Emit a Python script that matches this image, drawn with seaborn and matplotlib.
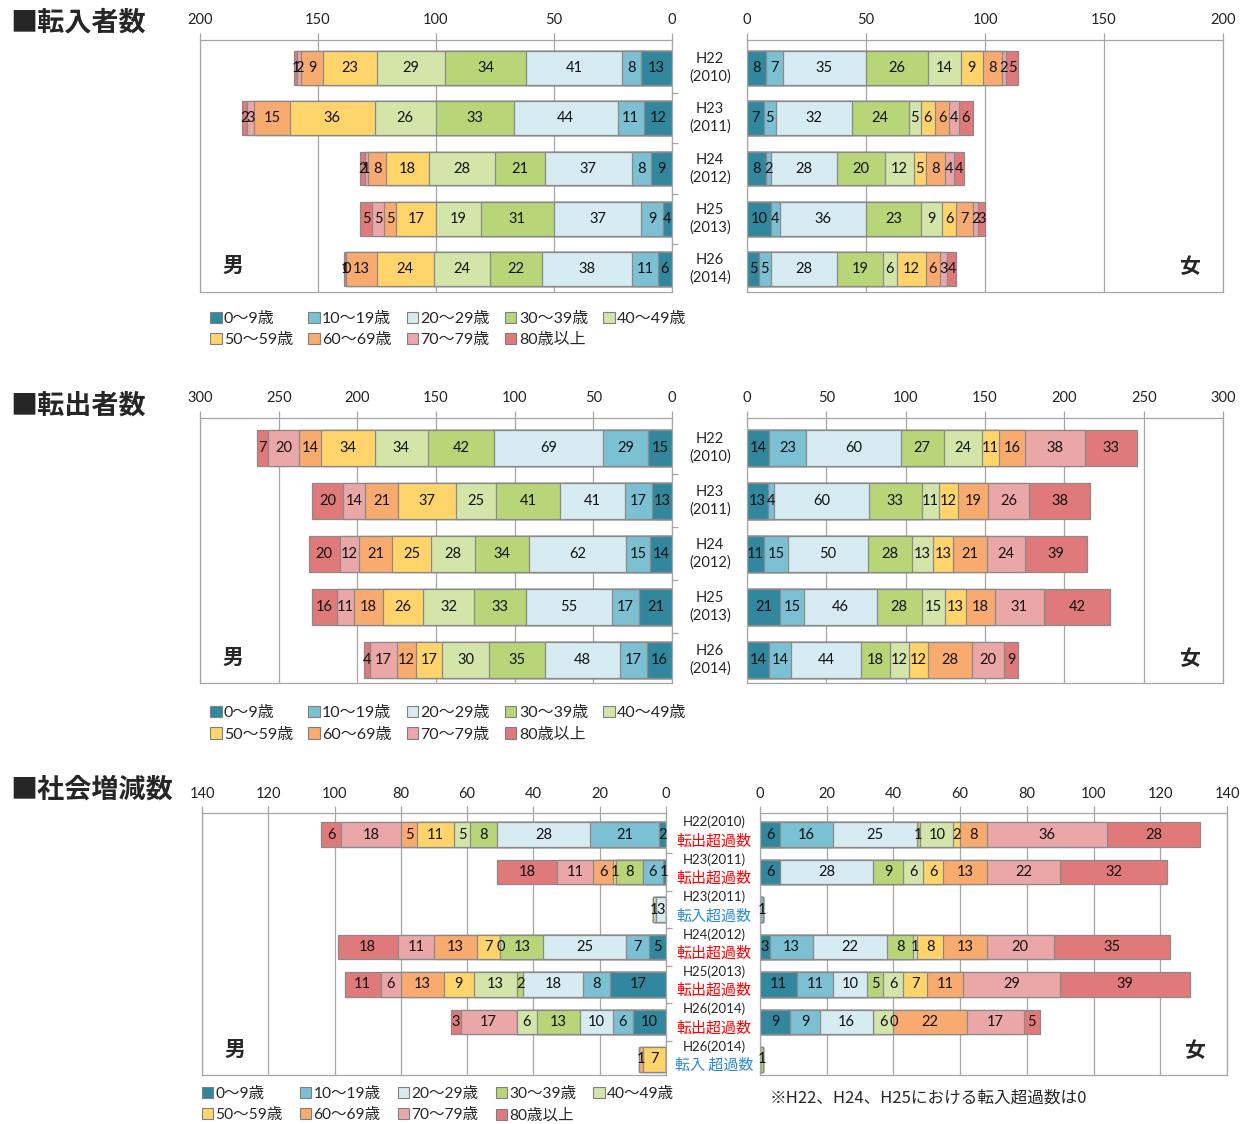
import numpy as np
import pandas as pd
import matplotlib
matplotlib.use("Agg")
import matplotlib.pyplot as plt
from matplotlib.patches import Patch
import seaborn as sns

# ---- data -----------------------------------------------------------------
ages = ["0～9歳", "10～19歳", "20～29歳", "30～39歳", "40～49歳",
        "50～59歳", "60～69歳", "70～79歳", "80歳以上"]
age_colors = ["#31879D", "#7CC0D3", "#D6EBF2", "#B8D677", "#D3E5A8",
              "#FFD56B", "#F9AB6F", "#EBA7A8", "#E07979"]

years = ["H22\n(2010)", "H23\n(2011)", "H24\n(2012)", "H25\n(2013)", "H26\n(2014)"]

# 転入者数 (rows: years, columns: age groups)
in_male = [
    [13, 8, 41, 34, 29, 23, 9, 2, 1],
    [12, 11, 44, 33, 26, 36, 15, 3, 2],
    [9, 8, 37, 21, 28, 18, 8, 1, 2],
    [4, 9, 37, 31, 19, 17, 5, 5, 5],
    [6, 11, 38, 22, 24, 24, 13, 0, 1],
]
in_female = [
    [8, 7, 35, 26, 14, 9, 8, 2, 5],
    [7, 5, 32, 24, 5, 6, 6, 4, 6],
    [8, 2, 28, 20, 12, 5, 8, 4, 4],
    [10, 4, 36, 23, 9, 6, 7, 2, 3],
    [5, 5, 28, 19, 6, 12, 6, 3, 4],
]

# 転出者数
out_male = [
    [15, 29, 69, 42, 34, 34, 14, 20, 7],
    [13, 17, 41, 41, 25, 37, 21, 14, 20],
    [14, 15, 62, 34, 28, 25, 21, 12, 20],
    [21, 17, 55, 33, 32, 26, 18, 11, 16],
    [16, 17, 48, 35, 30, 17, 12, 17, 4],
]
out_female = [
    [14, 23, 60, 27, 24, 11, 16, 38, 33],
    [13, 4, 60, 33, 11, 12, 19, 26, 38],
    [11, 15, 50, 28, 13, 13, 21, 24, 39],
    [21, 15, 46, 28, 15, 13, 18, 31, 42],
    [14, 14, 44, 18, 12, 12, 28, 20, 9],
]

# 社会増減数 (NaN = age group not in this row)
nan = np.nan
net_years = ["H22(2010)", "H23(2011)", "H23(2011)", "H24(2012)",
             "H25(2013)", "H26(2014)", "H26(2014)"]
net_kinds = ["転出超過数", "転出超過数", "転入超過数", "転出超過数",
             "転出超過数", "転出超過数", "転入 超過数"]
net_male = [
    [2, 21, 28, 8, 5, 11, 5, 18, 6],
    [1, 6, nan, 8, nan, 1, 6, 11, 18],
    [nan, nan, 3, nan, 1, nan, nan, nan, nan],
    [5, 7, 25, 13, 0, 7, 13, 11, 18],
    [17, 8, 18, 2, 13, 9, 13, 6, 11],
    [10, 6, 10, 13, 6, nan, nan, 17, 3],
    [nan, nan, nan, nan, nan, 7, 1, nan, nan],
]
net_female = [
    [6, 16, 25, 1, 10, 2, 8, 36, 28],
    [6, nan, 28, 9, 6, 6, 13, 22, 32],
    [nan, 1, nan, nan, nan, nan, nan, nan, nan],
    [3, 13, 22, 8, 1, 8, 13, 20, 35],
    [11, 11, 10, 5, 6, 7, 11, 29, 39],
    [9, 9, 16, nan, 6, 0, 22, 17, 5],
    [nan, nan, nan, 1, nan, nan, nan, nan, nan],
]

# ---- style ----------------------------------------------------------------
sns.set_theme(style="white")
plt.rcParams["font.family"] = ["Lato", "Noto Sans CJK JP", "DejaVu Sans"]
EDGE = "#8A8A8A"
GRID = "#A6A6A6"
W, H = 1250, 1124

fig = plt.figure(figsize=(W / 100, H / 100), dpi=100)


def px_axes(x0, x1, y0, y1):
    return fig.add_axes([x0 / W, 1 - y1 / H, (x1 - x0) / W, (y1 - y0) / H])


def stacked(ax, values, xmax, step, male, height, shift):
    df = pd.DataFrame(values, columns=ages)
    n = len(df)
    df["row"] = [f"r{i}" for i in range(n)]
    order = list(df["row"])
    filled = df[ages].fillna(0)
    ends = filled.cumsum(axis=1)
    starts = ends - filled
    # draw cumulative bars from the outermost segment inwards
    for k in range(len(ages) - 1, -1, -1):
        sns.barplot(x=ends[ages[k]].values, y=df["row"].values, order=order,
                    orient="h", color=age_colors[k], saturation=1,
                    width=height, edgecolor=EDGE, linewidth=0.9,
                    errorbar=None, ax=ax)
    for i in range(n):
        for age in ages:
            v = df.loc[i, age]
            if pd.isna(v):
                continue
            ax.text(starts.loc[i, age] + v / 2, i, f"{int(v)}",
                    ha="center", va="center", fontsize=10.5, color="#111111")
    ax.set_xlim((xmax, 0) if male else (0, xmax))
    ax.set_ylim(n - 0.5 - shift, -0.5 - shift)
    ax.set_xticks(np.arange(0, xmax + 1, step))
    ax.xaxis.tick_top()
    ax.tick_params(axis="x", top=True, bottom=False, labeltop=True,
                   labelbottom=False, length=5, width=0.9, color=GRID,
                   pad=4, labelsize=10.5, labelcolor="#222222")
    ax.grid(axis="x", color=GRID, lw=0.9)
    ax.set_axisbelow(True)
    ax.set_xlabel("")
    ax.set_ylabel("")
    for s in ax.spines.values():
        s.set_color(GRID)
        s.set_linewidth(0.9)
    if male:
        ax.set_yticks(np.arange(0.5, n - 1, 1), labels=[""] * (n - 1))
        ax.yaxis.tick_right()
        ax.tick_params(axis="y", right=True, left=False, length=4,
                       width=0.9, color=GRID)
    else:
        ax.set_yticks([])


def legend(x, y, fs, colsp, rowsp):
    handles = [Patch(facecolor=c, edgecolor="#7F7F7F", linewidth=0.8) for c in age_colors]
    idx = [0, 5, 1, 6, 2, 7, 3, 8, 4]
    fig.legend([handles[i] for i in idx], [ages[i] for i in idx],
               loc="upper left", bbox_to_anchor=(x / W, 1 - y / H),
               ncol=5, frameon=False, fontsize=fs, borderpad=0,
               handlelength=0.72, handleheight=0.72, handletextpad=0.15,
               columnspacing=colsp, labelspacing=rowsp, borderaxespad=0)


def sex_marks(axm, axf, ym, yf, xf=0.93):
    axm.text(0.07, ym, "男", transform=axm.transAxes, ha="center", va="center",
             fontsize=15, fontweight="bold", family=["Noto Sans CJK JP"])
    axf.text(xf, yf, "女", transform=axf.transAxes, ha="center", va="center",
             fontsize=15, fontweight="bold", family=["Noto Sans CJK JP"])


def title(y, s):
    fig.text(10 / W, 1 - y / H, s, ha="left", va="center", fontsize=19.5,
             fontweight="bold", family=["Noto Sans CJK JP"])


# ---- 転入者数 ----------------------------------------------------------------
title(22, "■転入者数")
a1m = px_axes(200, 672, 40, 292)
a1f = px_axes(747, 1223, 40, 292)
stacked(a1m, in_male, 200, 50, True, 0.67, 0.05)
stacked(a1f, in_female, 200, 50, False, 0.67, 0.05)
for i, yl in enumerate(years):
    a1m.text((710 - 200) / 472, i, yl, transform=a1m.get_yaxis_transform(),
             ha="center", va="center", fontsize=10.5, linespacing=1.3)
sex_marks(a1m, a1f, 0.107, 0.099)
legend(210, 312, 11.5, 0.94, 0.4)

# ---- 転出者数 ----------------------------------------------------------------
title(406, "■転出者数")
a2m = px_axes(200, 672, 418, 683)
a2f = px_axes(747, 1223, 418, 683)
stacked(a2m, out_male, 300, 50, True, 0.68, 0.06)
stacked(a2f, out_female, 300, 50, False, 0.68, 0.06)
for i, yl in enumerate(years):
    a2m.text((710 - 200) / 472, i, yl, transform=a2m.get_yaxis_transform(),
             ha="center", va="center", fontsize=10.5, linespacing=1.3)
sex_marks(a2m, a2f, 0.098, 0.094)
legend(210, 706, 11.5, 0.94, 0.45)

# ---- 社会増減数 --------------------------------------------------------------
title(790, "■社会増減数")
a3m = px_axes(202, 666, 813, 1075)
a3f = px_axes(760, 1227, 813, 1075)
stacked(a3m, net_male, 140, 20, True, 0.66, 0.08)
stacked(a3f, net_female, 140, 20, False, 0.66, 0.08)
xc = (714 - 202) / 464
for i, (yl, kd) in enumerate(zip(net_years, net_kinds)):
    a3m.text(xc, i - 0.34, yl, transform=a3m.get_yaxis_transform(),
             ha="center", va="center", fontsize=9.5)
    a3m.text(xc, i + 0.17, kd, transform=a3m.get_yaxis_transform(),
             ha="center", va="center", fontsize=10.8,
             color="#FF0000" if kd.startswith("転出") else "#2A8BD4",
             family=["Noto Sans CJK JP"])
sex_marks(a3m, a3f, 0.099, 0.095, 0.931)
legend(202, 1087, 11.2, 1.1, 0.45)
fig.text(770 / W, 1 - 1098 / H, "※H22、H24、H25における転入超過数は0",
         ha="left", va="center", fontsize=12, family=["Noto Sans CJK JP"])

fig.savefig("out.png", dpi=100, facecolor="white")
